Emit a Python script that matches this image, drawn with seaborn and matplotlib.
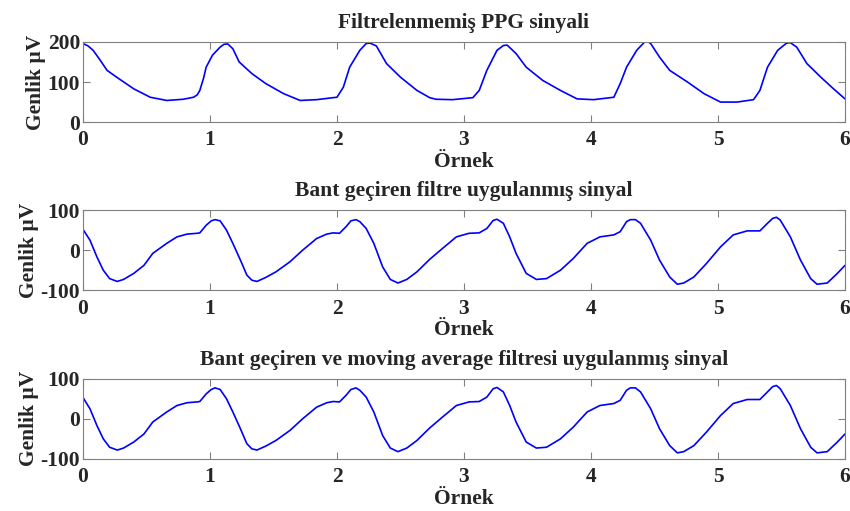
import numpy as np
import pandas as pd
import matplotlib
matplotlib.use("Agg")
import matplotlib.pyplot as plt
import seaborn as sns

# ---- data ----
x_raw = [0.00, 0.04, 0.08, 0.13, 0.19, 0.27, 0.40, 0.53, 0.66, 0.79, 0.87, 0.90, 0.92, 0.95,
         0.97, 1.02, 1.08, 1.11, 1.14, 1.18, 1.23, 1.33, 1.44, 1.58, 1.71, 1.84, 1.97, 2.00,
         2.05, 2.10, 2.18, 2.23, 2.26, 2.31, 2.39, 2.50, 2.63, 2.73, 2.78, 2.91, 3.07, 3.12,
         3.18, 3.26, 3.31, 3.34, 3.41, 3.49, 3.62, 3.76, 3.89, 4.02, 4.18, 4.23, 4.28, 4.36,
         4.42, 4.45, 4.47, 4.54, 4.62, 4.76, 4.89, 5.02, 5.15, 5.28, 5.33, 5.39, 5.47, 5.54,
         5.57, 5.62, 5.70, 5.81, 5.91, 6.00]
y_raw = [196, 190, 179, 157, 129, 111, 83, 62, 54, 57, 62, 68, 79, 110,
         137, 167, 187, 194, 195, 183, 150, 121, 96, 71, 54, 56, 61, 62,
         87, 137, 179, 196, 197, 190, 146, 112, 79, 61, 57, 56, 61, 79,
         129, 179, 191, 192, 171, 137, 104, 79, 58, 56, 62, 96, 137, 179,
         199, 200, 196, 162, 129, 100, 71, 50, 50, 56, 79, 137, 179, 197,
         198, 187, 146, 112, 83, 58]

x_bp = [0.00, 0.055, 0.11, 0.16, 0.21, 0.27, 0.32, 0.40, 0.48, 0.55, 0.66, 0.74, 0.82, 0.90,
        0.92, 0.97, 1.01, 1.04, 1.08, 1.13, 1.18, 1.24, 1.29, 1.33, 1.37, 1.44, 1.52, 1.63,
        1.73, 1.84, 1.92, 1.97, 2.02, 2.07, 2.11, 2.15, 2.18, 2.23, 2.29, 2.36, 2.42, 2.48,
        2.55, 2.63, 2.73, 2.83, 2.94, 3.04, 3.12, 3.18, 3.23, 3.26, 3.31, 3.36, 3.41, 3.49,
        3.57, 3.65, 3.76, 3.86, 3.97, 4.07, 4.18, 4.23, 4.28, 4.31, 4.35, 4.39, 4.47, 4.54,
        4.62, 4.68, 4.73, 4.81, 4.91, 5.02, 5.12, 5.23, 5.33, 5.39, 5.43, 5.46, 5.49, 5.57,
        5.65, 5.73, 5.78, 5.86, 5.94, 6.00]
y_bp = [52, 25, -17, -50, -71, -78, -73, -58, -38, -8, 17, 33, 40, 42,
        43, 62, 73, 76, 73, 50, 17, -25, -62, -75, -78, -68, -54, -29,
        0, 29, 40, 43, 42, 58, 73, 76, 71, 54, 17, -42, -73, -82,
        -73, -54, -23, 4, 33, 42, 43, 54, 74, 77, 67, 33, -8, -58,
        -73, -71, -50, -21, 17, 33, 38, 46, 71, 76, 76, 67, 25, -25,
        -67, -85, -82, -67, -33, 8, 38, 48, 48, 67, 79, 82, 75, 33,
        -25, -71, -85, -82, -58, -38]

x_ma = x_bp
y_ma = [53, 25, -17, -50, -71, -78, -73, -58, -38, -8, 17, 33, 40, 42,
        43, 62, 73, 77, 73, 50, 17, -25, -62, -75, -78, -68, -54, -29,
        0, 29, 40, 43, 42, 58, 73, 77, 71, 54, 17, -42, -73, -82,
        -73, -54, -23, 4, 33, 42, 43, 54, 75, 78, 67, 33, -8, -58,
        -73, -71, -50, -21, 17, 33, 38, 46, 71, 77, 77, 67, 25, -25,
        -67, -85, -82, -67, -33, 8, 38, 48, 48, 67, 80, 83, 75, 33,
        -25, -71, -85, -82, -58, -38]

titles = ["Filtrelenmemiş PPG sinyali",
          "Bant geçiren filtre uygulanmış sinyal",
          "Bant geçiren ve moving average filtresi uygulanmış sinyal"]
x_ticks = [0, 1, 2, 3, 4, 5, 6]
y_ticks_list = [[0, 100, 200], [-100, 0, 100], [-100, 0, 100]]
y_lims = [(0, 200), (-100, 100), (-100, 100)]
xlabel = "Örnek"
ylabel = "Genlik µV"

# ---- styling ----
sns.set_theme(style="ticks")
plt.rcParams['font.family'] = ['Liberation Serif', 'DejaVu Serif']
plt.rcParams['font.weight'] = 'bold'

fig = plt.figure(figsize=(8.5, 5.11), dpi=100)
L, W, H = 0.0976, 0.8965, 0.157
bottoms = [0.761, 0.432, 0.102]
series = [(x_raw, y_raw), (x_bp, y_bp), (x_ma, y_ma)]

fs = 15.5
for i in range(3):
    ax = fig.add_axes([L, bottoms[i], W, H])
    df = pd.DataFrame({"x": series[i][0], "y": series[i][1]})
    sns.lineplot(data=df, x="x", y="y", ax=ax, color="#0000FF", linewidth=1.2,
                 estimator=None, sort=False)
    ax.set_xlim(0, 6)
    ax.set_ylim(*y_lims[i])
    ax.set_xticks(x_ticks)
    ax.set_yticks(y_ticks_list[i])
    ax.set_xticklabels([str(t) for t in x_ticks], fontsize=fs, fontweight='bold')
    ax.set_yticklabels([str(t) for t in y_ticks_list[i]], fontsize=fs, fontweight='bold')
    ax.tick_params(axis='both', direction='in', length=5, width=0.8, color='#808080',
                   top=True, right=True)
    ax.tick_params(axis='x', pad=6)
    ax.tick_params(axis='y', pad=2)
    for s in ax.spines.values():
        s.set_color('#808080')
        s.set_linewidth(0.8)
    ax.set_title(titles[i], fontsize=fs, fontweight='bold', pad=10)
    ax.set_xlabel(xlabel, fontsize=fs, fontweight='bold', labelpad=1)
    ax.set_ylabel(ylabel, fontsize=fs, fontweight='bold', labelpad=1)

fig.savefig("out.png", dpi=100)
